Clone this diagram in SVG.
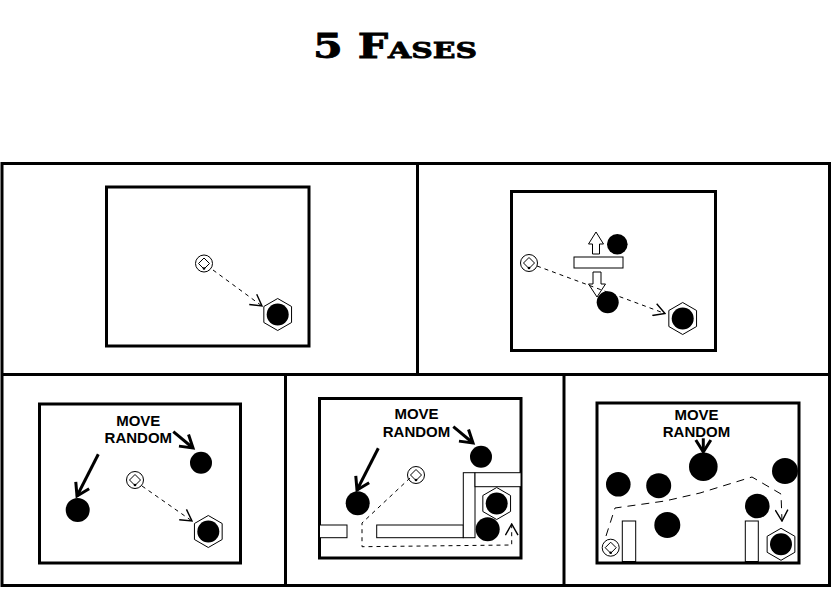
<svg xmlns="http://www.w3.org/2000/svg" width="832" height="590" viewBox="0 0 832 590">
<style>
.frame{fill:none;stroke:#000;stroke-width:3}
.box{fill:#fff;stroke:#000;stroke-width:3}
.thin{fill:#fff;stroke:#000;stroke-width:1}
.ball{fill:#000}
.dash{fill:none;stroke:#000;stroke-width:1;stroke-dasharray:4,4}
.dash2{fill:none;stroke:#000;stroke-width:1;stroke-dasharray:8,6}
.thick{fill:none;stroke:#000;stroke-width:3}
.lbl{font-family:"Liberation Sans",Arial,sans-serif;font-weight:bold;font-size:15px;text-anchor:middle;fill:#000}
.title{font-family:"DejaVu Serif","Liberation Serif",serif;font-weight:bold;font-size:33px;font-variant:small-caps;fill:#000;stroke:#000;stroke-width:0.8}
</style>
<defs>
<g id="start">
<circle r="8.5" fill="#fff" stroke="#000" stroke-width="1"/>
<path d="M0,-5.5 L5.5,0 L0,5.5 L-5.5,0 Z" fill="#fff" stroke="#000" stroke-width="1"/>
<circle cy="5" r="1.3" fill="#000"/>
</g>
<g id="goal">
<polygon points="0,-16 13.86,-8 13.86,8 0,16 -13.86,8 -13.86,-8" fill="#fff" stroke="#000" stroke-width="1"/>
<circle r="11" fill="#000"/>
</g>
<marker id="open" markerUnits="userSpaceOnUse" markerWidth="14" markerHeight="14" refX="9" refY="5" orient="auto" viewBox="0 0 10 10">
<path d="M1,0.5 L9,5 L1,9.5" fill="none" stroke="#000" stroke-width="1"/>
</marker>
<marker id="bold" markerUnits="userSpaceOnUse" markerWidth="18" markerHeight="18" refX="15" refY="9" orient="auto" viewBox="0 0 18 18">
<path d="M3,1.5 L15,9 L3,16.5" fill="none" stroke="#000" stroke-width="3"/>
</marker>
</defs>
<rect width="832" height="590" fill="#fff"/>
<text class="title" x="313" y="58" textLength="164" lengthAdjust="spacingAndGlyphs">5 Fases</text>

<g id="grid">
<rect class="frame" x="2" y="163.5" width="827.5" height="422"/>
<line class="frame" x1="2" y1="374.5" x2="829.5" y2="374.5"/>
<line class="frame" x1="417.5" y1="163.5" x2="417.5" y2="374.5"/>
<line class="frame" x1="285.5" y1="374.5" x2="285.5" y2="585.5"/>
<line class="frame" x1="564" y1="374.5" x2="564" y2="585.5"/>
</g>

<g id="panel1">
<rect class="box" x="106.5" y="187" width="202.5" height="159"/>
<g id="p1-start"><use href="#start" x="204" y="263.5"/></g>
<g id="p1-goal"><use href="#goal" x="277.7" y="314.5"/></g>
</g>

<g id="panel2">
<rect class="box" x="511.5" y="191.5" width="204" height="159"/>
<g id="p2-start"><use href="#start" x="529" y="263"/></g>
<g id="p2-wall"><rect class="thin" x="574" y="257" width="49" height="11"/></g>
<g id="p2-up"><polygon class="thin" points="596,232 603.5,244 599.5,244 599.5,254 592.5,254 592.5,244 588.5,244"/></g>
<g id="p2-down"><polygon class="thin" points="593,272 601,272 601,284 605.5,284 597,297 588.5,284 593,284"/></g>
<g id="p2-ball1"><circle class="ball" cx="617.3" cy="244.3" r="10.3"/></g>
<g id="p2-ball2"><circle class="ball" cx="607.7" cy="302.3" r="11"/></g>
<g id="p2-goal"><use href="#goal" x="682.7" y="318.5"/></g>
</g>

<g id="panel3">
<rect class="box" x="39.5" y="404" width="201" height="159"/>
<text class="lbl" x="138.3" y="425.5">MOVE</text>
<text class="lbl" x="138.3" y="443">RANDOM</text>
<g id="p3-ball1"><circle class="ball" cx="201" cy="462.7" r="11"/></g>
<g id="p3-ball2"><circle class="ball" cx="77.7" cy="510" r="12"/></g>
<g id="p3-start"><use href="#start" x="135" y="480"/></g>
<g id="p3-goal"><use href="#goal" x="208.3" y="531.5"/></g>
</g>

<g id="panel4">
<rect class="box" x="319.5" y="398.5" width="201.5" height="159.5"/>
<text class="lbl" x="416.5" y="419">MOVE</text>
<text class="lbl" x="416.5" y="437">RANDOM</text>
<g id="p4-walls">
<rect class="thin" x="319.5" y="525" width="27.5" height="12.7"/>
<rect class="thin" x="376.7" y="525" width="86.6" height="12.7"/>
<rect class="thin" x="463.3" y="472.7" width="11.7" height="65"/>
<rect class="thin" x="475" y="472.7" width="46" height="14"/>
</g>
<g id="p4-ball1"><circle class="ball" cx="481" cy="456.7" r="11"/></g>
<g id="p4-ball2"><circle class="ball" cx="357.7" cy="503.3" r="12"/></g>
<g id="p4-start"><use href="#start" x="416" y="475"/></g>
<g id="p4-goal"><use href="#goal" x="496.7" y="503.5"/></g>
<g id="p4-ball3"><circle class="ball" cx="487.7" cy="529.3" r="12"/></g>
</g>

<g id="panel5">
<rect class="box" x="597" y="403" width="202" height="160"/>
<text class="lbl" x="696.5" y="420">MOVE</text>
<text class="lbl" x="696.5" y="437">RANDOM</text>
<g id="p5-balls">
<circle class="ball" cx="703.3" cy="466.7" r="14.3"/>
<circle class="ball" cx="618.3" cy="484.3" r="12.3"/>
<circle class="ball" cx="658.7" cy="485.7" r="12.5"/>
<circle class="ball" cx="785" cy="471" r="13"/>
<circle class="ball" cx="757.3" cy="506" r="12.3"/>
<circle class="ball" cx="667.3" cy="525" r="13"/>
</g>
<g id="p5-walls">
<rect class="thin" x="622.3" y="521" width="13.4" height="40.5"/>
<rect class="thin" x="745.3" y="521" width="13" height="40.5"/>
</g>
<g id="p5-start"><use href="#start" x="610.7" y="547.7"/></g>
<g id="p5-goal"><use href="#goal" x="781" y="544.3"/></g>
</g>

<g id="connectors">
<line class="dash" x1="213" y1="270" x2="262" y2="306" marker-end="url(#open)"/>
<line class="dash" x1="537" y1="266" x2="665" y2="313.5" marker-end="url(#open)"/>
<line class="dash" x1="142" y1="486" x2="192" y2="521" marker-end="url(#open)"/>
<polyline class="dash" points="410,478 362,523 362,546.7 511.7,545 511.7,524" marker-end="url(#open)"/>
<polyline class="dash2" points="606,536 615,508 665,501 700,493 752,477 781,494 782,521" marker-end="url(#open)"/>
<line class="thick" x1="98.3" y1="454.3" x2="77" y2="496" marker-end="url(#bold)"/>
<line class="thick" x1="173.3" y1="431.7" x2="193" y2="448" marker-end="url(#bold)"/>
<line class="thick" x1="378.3" y1="448.3" x2="357" y2="490" marker-end="url(#bold)"/>
<line class="thick" x1="453.3" y1="426.7" x2="473" y2="443" marker-end="url(#bold)"/>
<line class="thick" x1="703.3" y1="438.3" x2="703.3" y2="452" marker-end="url(#bold)"/>
</g>
</svg>
